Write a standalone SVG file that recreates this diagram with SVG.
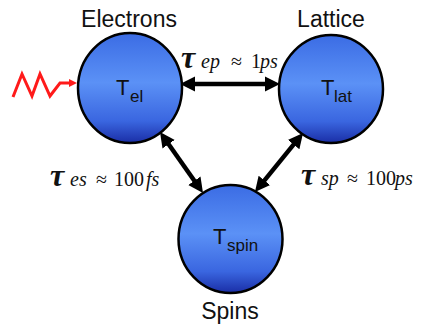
<svg xmlns="http://www.w3.org/2000/svg" width="422" height="329" viewBox="0 0 422 329">
<style>
.lbl{font-family:"Liberation Sans",Arial,sans-serif;font-size:23px;fill:#111;text-anchor:middle}
.t{font-family:"Liberation Sans",Arial,sans-serif;font-size:22px;fill:#111}
.sub{font-family:"Liberation Sans",Arial,sans-serif;font-size:17px;fill:#111}
.ball{fill:url(#g);stroke:#000;stroke-width:2.5}
.conn{stroke:#000;stroke-width:4.5;fill:none;marker-start:url(#ah);marker-end:url(#ah)}
.math{font-family:"Liberation Serif","DejaVu Serif","Times New Roman",serif;font-size:20px;fill:#111}
.tau{font-style:italic;font-weight:bold;font-size:32px}
.it{font-style:italic}
</style>
<defs>
<linearGradient id="g" x1="0" y1="0" x2="0" y2="1">
<stop offset="0" stop-color="#3b6ce4"/>
<stop offset="0.45" stop-color="#5b91f6"/>
<stop offset="0.8" stop-color="#3a66e0"/>
<stop offset="1" stop-color="#1a2ea6"/>
</linearGradient>
<marker id="ah" markerUnits="userSpaceOnUse" markerWidth="18" markerHeight="18" viewBox="0 -9 18 18" refX="7" refY="0" orient="auto-start-reverse">
<path d="M0,-7.5 L15,0 L0,7.5 z" fill="#000"/>
</marker>
<marker id="rh" markerUnits="userSpaceOnUse" markerWidth="12" markerHeight="12" viewBox="0 -6 12 12" refX="2" refY="0" orient="auto">
<path d="M0,-4 L8,0 L0,4 z" fill="#ff1a1a"/>
</marker>
</defs>
<g id="connectors">
<line class="conn" x1="188" y1="84" x2="272" y2="84"/>
<line class="conn" x1="164.6" y1="138.5" x2="198.4" y2="186.5"/>
<line class="conn" x1="298" y1="139.2" x2="260" y2="185.8"/>
<polyline points="13,97 22,74 32,96 40,74 50,96 60,83 71,83" fill="none" stroke="#ff1a1a" stroke-width="3" stroke-linejoin="miter" marker-end="url(#rh)"/>
</g>
<g id="electrons">
<ellipse class="ball" cx="130" cy="88" rx="52" ry="55"/>
<text class="lbl" x="129" y="27">Electrons</text>
<text class="t" x="116" y="95">T</text><text class="sub" x="130" y="102">el</text>
</g>
<g id="lattice">
<ellipse class="ball" cx="331" cy="89" rx="52" ry="54"/>
<text class="lbl" x="331" y="27">Lattice</text>
<text class="t" x="321" y="95">T</text><text class="sub" x="334" y="102">lat</text>
</g>
<g id="spins">
<ellipse class="ball" cx="230.5" cy="239" rx="52" ry="54"/>
<text class="lbl" x="230" y="319">Spins</text>
<text class="t" x="213" y="244">T</text><text class="sub" x="227" y="251">spin</text>
</g>
<g id="labels">
<text class="math" y="68"><tspan class="tau" x="181">τ</tspan><tspan class="it" x="201">ep</tspan><tspan x="231">≈</tspan><tspan x="251">1</tspan><tspan class="it" x="260">ps</tspan></text>
<text class="math" y="186"><tspan class="tau" x="50">τ</tspan><tspan class="it" x="70">es</tspan><tspan x="96">≈</tspan><tspan x="114">100</tspan><tspan class="it" x="146">fs</tspan></text>
<text class="math" y="185"><tspan class="tau" x="301">τ</tspan><tspan class="it" x="321">sp</tspan><tspan x="347">≈</tspan><tspan x="366">100</tspan><tspan class="it" x="395">ps</tspan></text>
</g>
</svg>
